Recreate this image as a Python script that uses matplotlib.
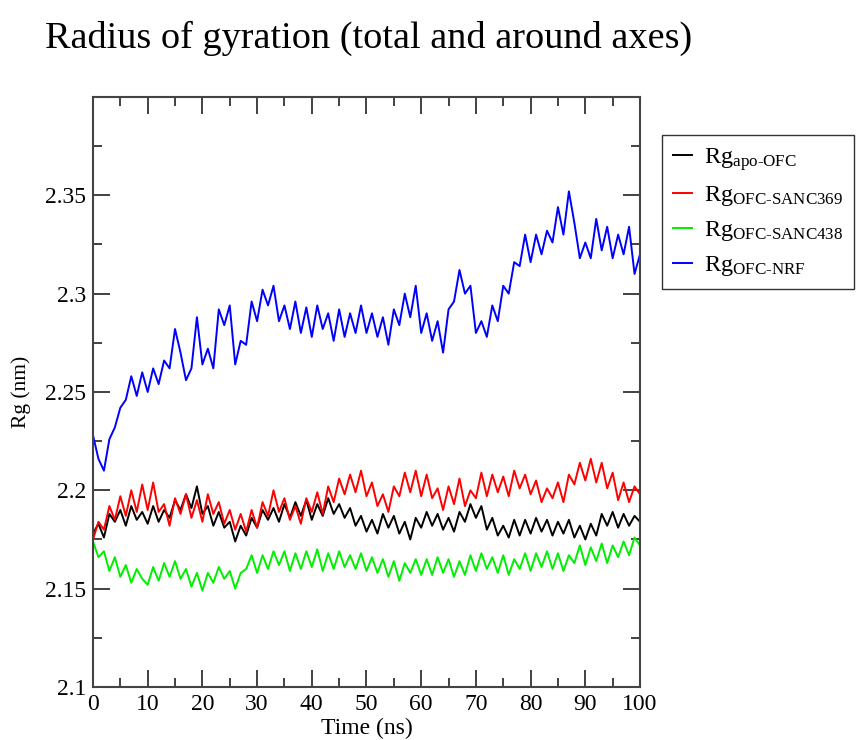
import matplotlib
matplotlib.use("Agg")
import matplotlib.pyplot as plt
import numpy as np

# time axis, 1 ns steps
time_ns = np.arange(0, 101)

rg_apo = [2.178, 2.183, 2.176, 2.188, 2.184, 2.190, 2.182, 2.192, 2.185, 2.189,
          2.183, 2.192, 2.184, 2.190, 2.186, 2.195, 2.190, 2.198, 2.191, 2.202,
          2.188, 2.192, 2.182, 2.189, 2.181, 2.184, 2.174, 2.182, 2.177, 2.186,
          2.181, 2.190, 2.185, 2.191, 2.184, 2.193, 2.186, 2.194, 2.187, 2.195,
          2.185, 2.193, 2.187, 2.196, 2.188, 2.193, 2.186, 2.191, 2.182, 2.187,
          2.179, 2.185, 2.178, 2.188, 2.181, 2.187, 2.178, 2.184, 2.175, 2.186,
          2.181, 2.189, 2.182, 2.188, 2.180, 2.186, 2.179, 2.189, 2.184, 2.193,
          2.186, 2.192, 2.180, 2.186, 2.177, 2.182, 2.176, 2.185, 2.177, 2.185,
          2.178, 2.186, 2.179, 2.185, 2.177, 2.184, 2.178, 2.185, 2.176, 2.182,
          2.175, 2.183, 2.177, 2.188, 2.182, 2.189, 2.181, 2.188, 2.182, 2.187,
          2.184]

rg_sanc369 = [2.175, 2.184, 2.180, 2.192, 2.185, 2.197, 2.187, 2.200, 2.189, 2.203,
              2.190, 2.204, 2.189, 2.193, 2.182, 2.196, 2.188, 2.198, 2.186, 2.195,
              2.184, 2.198, 2.188, 2.194, 2.183, 2.190, 2.180, 2.188, 2.179, 2.190,
              2.181, 2.194, 2.187, 2.200, 2.189, 2.196, 2.185, 2.192, 2.183, 2.196,
              2.189, 2.199, 2.188, 2.202, 2.194, 2.206, 2.198, 2.208, 2.199, 2.210,
              2.197, 2.204, 2.192, 2.198, 2.189, 2.202, 2.197, 2.209, 2.199, 2.210,
              2.197, 2.208, 2.196, 2.201, 2.190, 2.202, 2.193, 2.206, 2.192, 2.200,
              2.196, 2.209, 2.197, 2.208, 2.199, 2.207, 2.197, 2.210, 2.201, 2.208,
              2.198, 2.205, 2.194, 2.201, 2.196, 2.204, 2.194, 2.208, 2.203, 2.214,
              2.205, 2.216, 2.204, 2.214, 2.201, 2.209, 2.195, 2.204, 2.194, 2.202,
              2.198]

rg_sanc438 = [2.174, 2.166, 2.169, 2.159, 2.166, 2.156, 2.162, 2.153, 2.160, 2.155,
              2.152, 2.161, 2.154, 2.163, 2.156, 2.164, 2.155, 2.160, 2.151, 2.158,
              2.149, 2.158, 2.153, 2.161, 2.155, 2.159, 2.150, 2.158, 2.160, 2.167,
              2.158, 2.167, 2.160, 2.169, 2.162, 2.169, 2.159, 2.168, 2.160, 2.169,
              2.161, 2.170, 2.159, 2.168, 2.160, 2.169, 2.161, 2.167, 2.160, 2.168,
              2.159, 2.166, 2.158, 2.165, 2.156, 2.164, 2.154, 2.163, 2.158, 2.165,
              2.157, 2.165, 2.157, 2.166, 2.158, 2.165, 2.156, 2.164, 2.157, 2.167,
              2.159, 2.168, 2.160, 2.166, 2.158, 2.167, 2.157, 2.165, 2.160, 2.168,
              2.159, 2.168, 2.161, 2.169, 2.160, 2.168, 2.159, 2.167, 2.163, 2.172,
              2.162, 2.171, 2.164, 2.173, 2.163, 2.172, 2.166, 2.174, 2.167, 2.176,
              2.172]

rg_nrf = [2.228, 2.216, 2.210, 2.226, 2.232, 2.242, 2.246, 2.258, 2.248, 2.260,
          2.250, 2.262, 2.254, 2.266, 2.262, 2.282, 2.270, 2.256, 2.262, 2.288,
          2.264, 2.272, 2.262, 2.292, 2.284, 2.294, 2.264, 2.276, 2.274, 2.296,
          2.286, 2.302, 2.294, 2.304, 2.286, 2.294, 2.282, 2.296, 2.280, 2.293,
          2.278, 2.294, 2.282, 2.290, 2.276, 2.292, 2.278, 2.290, 2.280, 2.294,
          2.280, 2.290, 2.278, 2.288, 2.274, 2.292, 2.284, 2.300, 2.288, 2.304,
          2.280, 2.290, 2.276, 2.286, 2.270, 2.292, 2.296, 2.312, 2.300, 2.304,
          2.280, 2.286, 2.278, 2.294, 2.286, 2.304, 2.300, 2.316, 2.314, 2.330,
          2.316, 2.330, 2.320, 2.332, 2.326, 2.344, 2.330, 2.352, 2.336, 2.318,
          2.326, 2.318, 2.338, 2.322, 2.334, 2.318, 2.330, 2.320, 2.334, 2.310,
          2.320]

labels = [r"Rg$_{\mathrm{apo\text{-}OFC}}$",
          r"Rg$_{\mathrm{OFC\text{-}SANC369}}$",
          r"Rg$_{\mathrm{OFC\text{-}SANC438}}$",
          r"Rg$_{\mathrm{OFC\text{-}NRF}}$"]
colors = ["black", "red", "#00ee00", "blue"]

plt.rcParams["font.family"] = ["Liberation Serif", "DejaVu Serif"]
plt.rcParams["mathtext.fontset"] = "custom"
plt.rcParams["mathtext.rm"] = "Liberation Serif"
plt.rcParams["mathtext.it"] = "Liberation Serif:italic"

fig = plt.figure(figsize=(8.57, 7.4), dpi=100)
ax = fig.add_axes([0.1085, 0.0716, 0.6383, 0.7974])

for series, lab, col in zip([rg_apo, rg_sanc369, rg_sanc438, rg_nrf], labels, colors):
    ax.plot(time_ns, series, color=col, lw=1.4, label=lab)

ax.set_xlim(0, 100)
ax.set_ylim(2.1, 2.4)
ax.set_xticks(np.arange(0, 101, 10))
ax.set_xticks(np.arange(5, 100, 10), minor=True)
ax.set_yticks([2.1, 2.15, 2.2, 2.25, 2.3, 2.35])
ax.set_yticklabels(["2.1", "2.15", "2.2", "2.25", "2.3", "2.35"])
ax.set_yticks(np.arange(2.125, 2.4, 0.05), minor=True)
ax.tick_params(which="both", direction="in", top=True, right=True,
               labelsize=17, width=1.3, color="#333333", pad=5)
ax.tick_params(which="major", length=12.5)
ax.tick_params(which="minor", length=6.5)
for sp in ax.spines.values():
    sp.set_linewidth(1.5)
    sp.set_color("#444444")

ax.set_xlabel("Time (ns)", fontsize=17, labelpad=2)
ax.set_ylabel("Rg (nm)", fontsize=15.5, labelpad=10)

fig.text(0.052, 0.935, "Radius of gyration (total and around axes)", fontsize=27.5,
         ha="left", va="baseline")

leg = ax.legend(loc="upper left", bbox_to_anchor=(0.773, 0.817),
                bbox_transform=fig.transFigure, fontsize=17.5, frameon=True,
                fancybox=False, handlelength=0.75, handletextpad=0.5,
                labelspacing=0.45, borderpad=0.45, borderaxespad=0)
leg.get_frame().set_edgecolor("black")
leg.get_frame().set_linewidth(1.0)

fig.savefig("out.png", dpi=100)
